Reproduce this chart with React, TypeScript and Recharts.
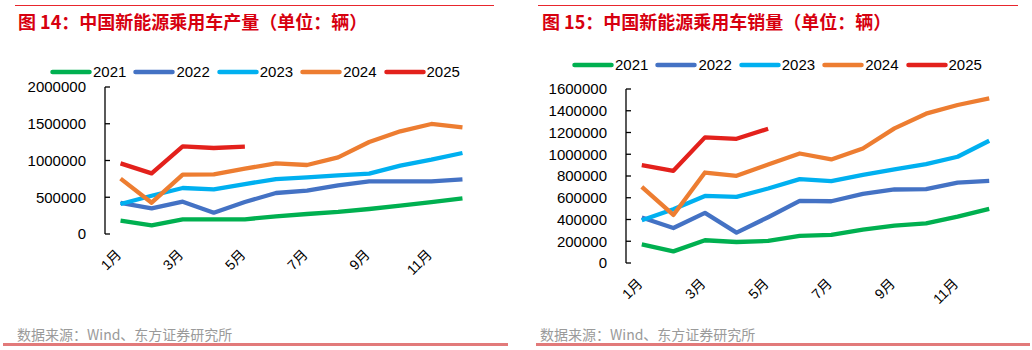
import React from "react";
import { LineChart, Line, XAxis, YAxis, Legend } from "recharts";

// months 1..12
const months = [1, 2, 3, 4, 5, 6, 7, 8, 9, 10, 11, 12];
const labelMonths = [1, 3, 5, 7, 9, 11];
const boundaryTicks = [0.5, 1.5, 2.5, 3.5, 4.5, 5.5, 6.5, 7.5, 8.5, 9.5, 10.5, 11.5, 12.5];
const years = ["2021", "2022", "2023", "2024", "2025"];
const colors = ["#00b050", "#4472c4", "#00b0f0", "#ed7d31", "#e3211c"];

// 产量
const prod2021 = [181000, 118000, 200000, 200000, 200000, 240000, 272000, 300000, 340000, 385000, 435000, 485000];
const prod2022 = [422000, 349000, 440000, 290000, 435000, 558000, 590000, 662000, 717000, 717000, 717000, 744000];
const prod2023 = [408000, 521000, 626000, 608000, 680000, 748000, 771000, 798000, 821000, 930000, 1011000, 1102000];
const prod2024 = [753000, 426000, 807000, 812000, 889000, 961000, 939000, 1043000, 1252000, 1397000, 1497000, 1451000];
const prod2025 = [961000, 825000, 1193000, 1170000, 1188000];
const prodTicks = [0, 500000, 1000000, 1500000, 2000000];

// 销量
const sales2021 = [172000, 107000, 209000, 193000, 203000, 249000, 258000, 307000, 344000, 365000, 427000, 497000];
const sales2022 = [418000, 322000, 461000, 279000, 421000, 571000, 568000, 636000, 676000, 679000, 740000, 755000];
const sales2023 = [393000, 494000, 617000, 608000, 685000, 771000, 752000, 811000, 860000, 909000, 977000, 1124000];
const sales2024 = [700000, 442000, 832000, 802000, 906000, 1007000, 952000, 1053000, 1238000, 1373000, 1453000, 1514000];
const sales2025 = [900000, 848000, 1155000, 1142000, 1235000];
const salesTicks = [0, 200000, 400000, 600000, 800000, 1000000, 1200000, 1400000, 1600000];

const buildRows = (series: number[][]) =>
  months.map((m, i) => {
    const row: Record<string, number | undefined> = { m };
    years.forEach((y, k) => {
      row[y] = series[k][i];
    });
    return row;
  });

const prodData = buildRows([prod2021, prod2022, prod2023, prod2024, prod2025]);
const salesData = buildRows([sales2021, sales2022, sales2023, sales2024, sales2025]);

const FONT = "'Liberation Sans', Arial, 'Noto Sans CJK SC', sans-serif";
const CJK = "'Noto Sans CJK SC', 'Liberation Sans', sans-serif";
const LABEL_GAP = 19;

function YTick(props: any) {
  const { x, y, payload } = props;
  return (
    <g>
      <text x={x} y={y} dy="0.36em" textAnchor="end" fontSize={15} fill="#000" fontFamily={FONT}>
        {payload.value}
      </text>
      <line x1={x + LABEL_GAP} x2={x + LABEL_GAP + 5} y1={y} y2={y} stroke="#000" strokeWidth={1.3} />
    </g>
  );
}

function XLabel(props: any) {
  const { x, y, payload } = props;
  const ax = x - 2;
  return (
    <text
      x={ax}
      y={y}
      dy="0.36em"
      textAnchor="end"
      transform={`rotate(-45 ${ax} ${y})`}
      fontSize={14}
      fill="#000"
      fontFamily={FONT}
    >
      {payload.value}月
    </text>
  );
}

function LegendContent(props: any) {
  const { payload } = props;
  return (
    <div style={{ display: "flex", alignItems: "center", fontFamily: FONT }}>
      {payload.map((p: any) => (
        <div key={p.value} style={{ display: "flex", alignItems: "center", marginRight: 7 }}>
          <svg width={42} height={8}>
            <line x1={2.5} x2={39.5} y1={4} y2={4} stroke={p.color} strokeWidth={4.5} strokeLinecap="round" />
          </svg>
          <span style={{ fontSize: 15, marginLeft: 1, color: "#000", lineHeight: "18px" }}>{p.value}</span>
        </div>
      ))}
    </div>
  );
}

type PanelProps = {
  left: number;
  title: string;
  titleLeft: number;
  sourceLeft: number;
  data: Record<string, number | undefined>[];
  ticks: number[];
  yWidth: number;
  margin: { top: number; right: number; bottom: number; left: number };
  legendTop: number;
  legendLeft: number;
  topLine: [number, number];
  bottomLine: [number, number];
};

function Panel(p: PanelProps) {
  return (
    <>
      <div style={{ position: "absolute", left: p.topLine[0], width: p.topLine[1] - p.topLine[0], top: 5, height: 1, background: "#e8262d" }} />
      <div
        style={{
          position: "absolute",
          left: p.titleLeft,
          top: 10,
          fontSize: 18,
          lineHeight: "22px",
          fontWeight: 700,
          color: "#d7000f",
          fontFamily: CJK,
          whiteSpace: "nowrap",
        }}
      >
        {p.title}
      </div>
      <div style={{ position: "absolute", left: p.left }}>
        <LineChart width={516} height={350} data={p.data} margin={p.margin}>
          <XAxis
            xAxisId="t"
            dataKey="m"
            type="number"
            domain={[0.5, 12.5]}
            ticks={boundaryTicks}
            tick={false}
            tickSize={5}
            height={0}
            axisLine={{ stroke: "#000", strokeWidth: 1.3 }}
            tickLine={{ stroke: "#000", strokeWidth: 1.3 }}
          />
          <XAxis
            xAxisId="m"
            dataKey="m"
            type="number"
            domain={[0.5, 12.5]}
            ticks={labelMonths}
            interval={0}
            axisLine={false}
            tickLine={false}
            tickSize={0}
            tickMargin={18}
            height={50}
            tick={<XLabel />}
          />
          <YAxis
            domain={[p.ticks[0], p.ticks[p.ticks.length - 1]]}
            ticks={p.ticks}
            width={p.yWidth}
            tickSize={0}
            tickMargin={LABEL_GAP}
            tickLine={false}
            axisLine={{ stroke: "#000", strokeWidth: 1.3 }}
            tick={<YTick />}
            interval={0}
          />
          <Legend
            verticalAlign="middle"
            align="center"
            content={<LegendContent />}
            wrapperStyle={{ top: p.legendTop, left: p.legendLeft, width: "auto" }}
          />
          {years.map((y, k) => (
            <Line
              key={y}
              xAxisId="m"
              dataKey={y}
              name={y}
              stroke={colors[k]}
              strokeWidth={4.3}
              dot={false}
              activeDot={false}
              isAnimationActive={false}
              strokeLinejoin="round"
            />
          ))}
        </LineChart>
      </div>
      <div
        style={{
          position: "absolute",
          left: p.sourceLeft,
          top: 325,
          fontSize: 14,
          lineHeight: "18px",
          color: "#9a9a9a",
          fontFamily: CJK,
          whiteSpace: "nowrap",
        }}
      >
        数据来源：Wind、东方证券研究所
      </div>
      <div style={{ position: "absolute", left: p.bottomLine[0], width: p.bottomLine[1] - p.bottomLine[0], top: 343, height: 2.5, background: "#e27a7a" }} />
    </>
  );
}

export default function App() {
  return (
    <div style={{ position: "absolute", left: 0, top: 0, width: 1032, height: 350, background: "#fff", overflow: "hidden" }}>
      <Panel
        left={0}
        title="图 14：中国新能源乘用车产量（单位：辆）"
        titleLeft={18}
        sourceLeft={17}
        data={prodData}
        ticks={prodTicks}
        yWidth={105}
        margin={{ top: 87, right: 38, bottom: 66, left: 0 }}
        legendTop={63}
        legendLeft={50}
        topLine={[15, 494]}
        bottomLine={[3, 508]}
      />
      <Panel
        left={516}
        title="图 15：中国新能源乘用车销量（单位：辆）"
        titleLeft={542}
        sourceLeft={540}
        data={salesData}
        ticks={salesTicks}
        yWidth={110}
        margin={{ top: 89, right: 27, bottom: 37, left: 0 }}
        legendTop={56}
        legendLeft={56}
        topLine={[538, 1018]}
        bottomLine={[536, 1030]}
      />
    </div>
  );
}
